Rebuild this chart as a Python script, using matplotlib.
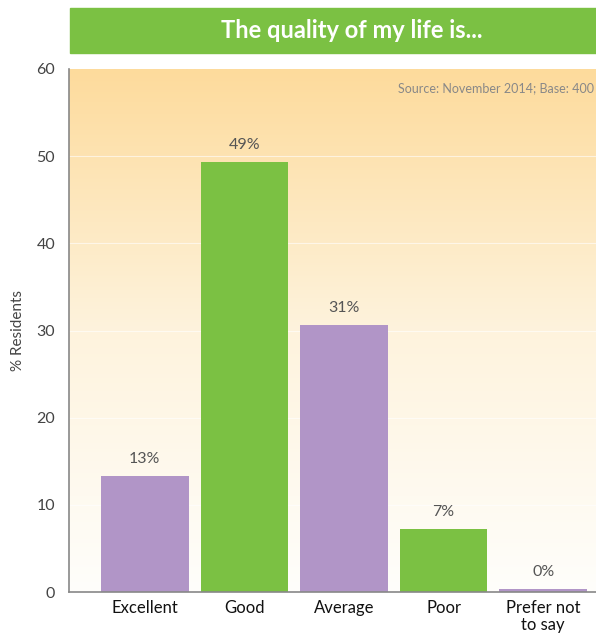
import numpy as np
import matplotlib.pyplot as plt
from matplotlib.colors import LinearSegmentedColormap
from matplotlib.patches import Rectangle

categories = ['Excellent', 'Good', 'Average', 'Poor', 'Prefer not\nto say']
values = [13.3, 49.3, 30.6, 7.2, 0.3]
labels = ['13%', '49%', '31%', '7%', '0%']
colors = ['#b195c7', '#7bc143', '#b195c7', '#7bc143', '#b195c7']

plt.rcParams['font.family'] = ['Lato', 'DejaVu Sans']

fig = plt.figure(figsize=(5.96, 6.4), dpi=100)

# title banner
fig.patches.append(Rectangle((70 / 596, 1 - 53 / 640), 1, 45 / 640,
                             transform=fig.transFigure, color='#7bc143', zorder=0))
fig.text(0.59, 1 - 31 / 640, 'The quality of my life is...', color='white',
         fontsize=17, fontweight='bold', ha='center', va='center')

ax = fig.add_axes([69 / 596, 48 / 640, 527 / 596, 523 / 640])
ax.set_xlim(-0.76, 4.53)
ax.set_ylim(0, 60)

# gradient background
grad = LinearSegmentedColormap.from_list('bg', ['#fffefb', '#fef3dd', '#fddb9c'])
ax.imshow(np.linspace(0, 1, 256).reshape(-1, 1), aspect='auto', cmap=grad,
          extent=[-0.76, 4.53, 0, 60], origin='lower', zorder=0)

for y in range(10, 60, 10):
    ax.axhline(y, color='white', lw=0.8, alpha=0.6, zorder=1)

x = np.arange(len(categories))
ax.bar(x, values, width=0.88, color=colors, zorder=2)
for xi, v, lab in zip(x, values, labels):
    ax.text(xi, v + 1.2, lab, ha='center', va='bottom', fontsize=11.5, color='#555555')

ax.set_xticks(x)
ax.set_xticklabels(categories, fontsize=12, color='#111111', linespacing=1.05)
ax.set_yticks(range(0, 61, 10))
ax.tick_params(axis='y', length=0, labelsize=11.5, labelcolor='#444444', pad=10)
ax.tick_params(axis='x', length=0, pad=6)
ax.set_ylabel('% Residents', fontsize=11, color='#444444', labelpad=8)

for s in ['top', 'right']:
    ax.spines[s].set_visible(False)
for s in ['left', 'bottom']:
    ax.spines[s].set_color('#888888')
    ax.spines[s].set_linewidth(1.2)

ax.text(0.997, 0.963, 'Source: November 2014; Base: 400',
        transform=ax.transAxes, fontsize=9, color='#888888', ha='right', va='center')

fig.savefig('out.png', dpi=100)
